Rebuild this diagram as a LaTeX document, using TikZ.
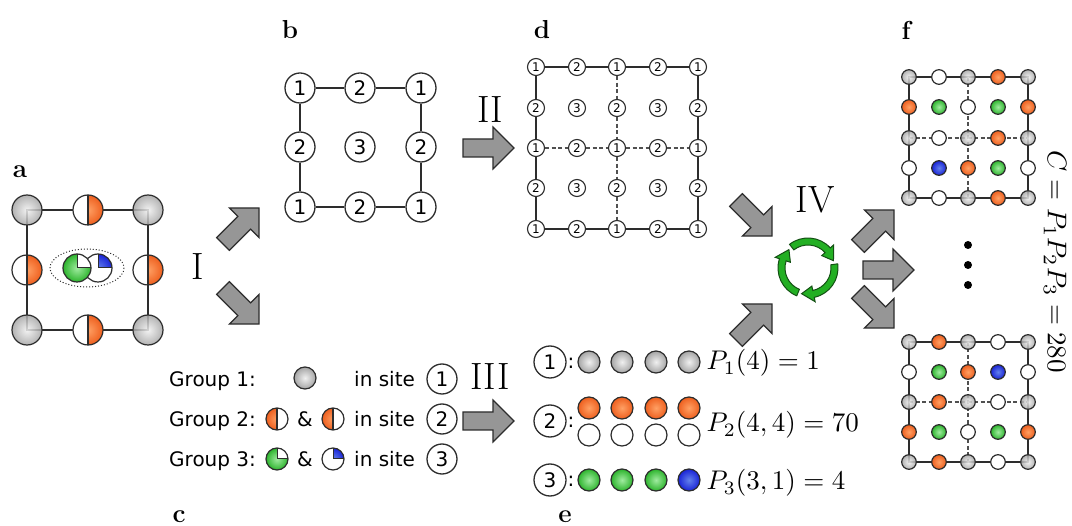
\documentclass[tikz,border=0pt]{standalone}
\usepackage{fontspec}
\newfontfamily\dejavu{DejaVu Sans}
\pgfdeclarelayer{bg}
\pgfsetlayers{bg,main}
\definecolor{ora}{RGB}{238,95,30}
\definecolor{oraL}{RGB}{255,160,100}
\definecolor{grn}{RGB}{45,180,45}
\definecolor{grnL}{RGB}{160,235,160}
\definecolor{blu}{RGB}{25,35,215}
\definecolor{bluL}{RGB}{100,130,235}
\definecolor{gryL}{RGB}{240,240,240}
\definecolor{gry}{RGB}{165,165,165}
\definecolor{edge}{RGB}{45,45,45}
\definecolor{dashgray}{RGB}{80,80,80}
\definecolor{arrowgray}{RGB}{150,150,150}
\definecolor{cyc}{RGB}{35,175,35}
\definecolor{cycedge}{RGB}{20,80,20}
\newcommand{\OHalfR}[3]{%
 \fill[white] (#1,#2) circle (#3);
 \begin{scope}\clip (#1,#2-#3) rectangle (#1+#3,#2+#3);
 \shade[inner color=oraL,outer color=ora] (#1,#2) circle (#3);\end{scope}
 \draw[draw=edge, line width=1.1pt] (#1,#2-#3) -- (#1,#2+#3);
 \draw[draw=edge, line width=1.2pt] (#1,#2) circle (#3);}
\newcommand{\OHalfL}[3]{%
 \fill[white] (#1,#2) circle (#3);
 \begin{scope}\clip (#1-#3,#2-#3) rectangle (#1,#2+#3);
 \shade[inner color=oraL,outer color=ora] (#1,#2) circle (#3);\end{scope}
 \draw[draw=edge, line width=1.1pt] (#1,#2-#3) -- (#1,#2+#3);
 \draw[draw=edge, line width=1.2pt] (#1,#2) circle (#3);}
\newcommand{\QGreen}[3]{%
 \shade[inner color=grnL,outer color=grn] (#1,#2) circle (#3);
 \begin{scope}\clip (#1,#2) rectangle (#1+#3,#2-#3); \fill[white] (#1,#2) circle (#3);\end{scope}
 \draw[draw=edge, line width=1pt] (#1,#2-#3) -- (#1,#2) -- (#1+#3,#2);
 \draw[draw=edge, line width=1.2pt] (#1,#2) circle (#3);}
\newcommand{\QBlue}[3]{%
 \fill[white] (#1,#2) circle (#3);
 \begin{scope}\clip (#1,#2) rectangle (#1+#3,#2-#3);
 \shade[inner color=bluL,outer color=blu] (#1,#2) circle (#3);\end{scope}
 \draw[draw=edge, line width=1pt] (#1,#2-#3) -- (#1,#2) -- (#1+#3,#2);
 \draw[draw=edge, line width=1.2pt] (#1,#2) circle (#3);}
\newcommand{\BArrow}[3]{%
 \draw[barrow, shift={(#1,#2)}, rotate=#3] (0,-9) -- (30,-9) -- (30,-21) -- (51,0) -- (30,21) -- (30,9) -- (0,9) -- cycle;}
\tikzset{
 latline/.style={draw=edge, line width=1.5pt},
 dashline/.style={draw=dashgray, line width=1.3pt, dash pattern=on 4pt off 2.5pt},
 barrow/.style={fill=arrowgray, draw=edge, line width=1.2pt, line join=miter},
 ballbase/.style={circle, inner sep=0pt, draw=edge, line width=1.2pt, shade},
 gball/.style={ballbase, minimum size=#1, inner color=gryL, outer color=gry},
 oball/.style={ballbase, minimum size=#1, inner color=oraL, outer color=ora},
 nball/.style={ballbase, minimum size=#1, inner color=grnL, outer color=grn},
 bball/.style={ballbase, minimum size=#1, inner color=bluL, outer color=blu},
 wball/.style={circle, inner sep=0pt, draw=edge, line width=1.2pt, fill=white, minimum size=#1},
 fsg/.style={gball=14.6pt, fill opacity=0.85},
 fso/.style={oball=14.6pt},
 fsn/.style={nball=14.6pt},
 fsb/.style={bball=14.6pt},
 fsw/.style={wball=14.6pt},
 bsite/.style={circle, draw=edge, line width=1.3pt, fill=white, inner sep=0pt, minimum size=30pt, font=\dejavu\fontsize{20}{20}\selectfont},
 dsite/.style={circle, draw=edge, line width=1.1pt, fill=white, inner sep=0pt, minimum size=17pt, font=\dejavu\fontsize{12}{12}\selectfont},
 gtext/.style={inner sep=0pt, font=\dejavu\fontsize{20}{22}\selectfont},
 mtext/.style={inner sep=0pt, font=\fontsize{10}{12}\selectfont, scale=2.7, transform shape},
 roman/.style={inner sep=0pt, font=\fontsize{38}{40}\selectfont},
 lab/.style={inner sep=0pt, font=\bfseries\fontsize{26}{28}\selectfont},
 cycarrow/.style={fill=cyc, draw=cycedge, line width=1pt, line join=miter},
}
\begin{document}
\begin{tikzpicture}[x=1pt,y=-1pt]
\useasboundingbox (0,0) rectangle (1072,526);
% ---------- panel labels
\node[lab] (la) at (20,172) {a};
\node[lab] (lb) at (290,30) {b};
\node[lab] (ld) at (542,30) {d};
\node[lab] (lf) at (906,30) {f};
\node[lab] (lc) at (179,517) {c};
\node[lab] (le) at (565,517) {e};
% ---------- panel a
\coordinate (a11) at (27,210); \coordinate (a13) at (148,210);
\coordinate (a31) at (27,330); \coordinate (a33) at (148,330);
\draw[latline] (a11) -- (a13) -- (a33) -- (a31) -- cycle;
\foreach \p in {a11,a13,a31,a33} \node[gball=30pt, fill opacity=0.85] (b\p) at (\p) {};
\OHalfR{88}{210}{15}
\OHalfR{27}{270}{15}
\OHalfR{148}{270}{15}
\OHalfR{88}{330}{15}
\draw[draw=edge, line width=1pt, dotted] (87,268) ellipse (37 and 19);
\QBlue{98}{268}{14}
\QGreen{77}{268}{14}
% ---------- panel b
\foreach \r/\y in {1/88,2/147,3/207} \foreach \c/\x in {1/300,2/360,3/421} {
  \pgfmathtruncatemacro\n{mod(\r+1,2)+mod(\c+1,2)+1}
  \node[bsite] (b\r\c) at (\x,\y) {\n};
}
\draw[latline] (b11) -- (b12) -- (b13) -- (b23) -- (b33) -- (b32) -- (b31) -- (b21) -- (b11);
% ---------- panel d
\foreach \r/\y in {0/67,1/108,2/148,3/188,4/229} \foreach \c/\x in {0/536,1/577,2/617,3/658,4/698} {
  \pgfmathtruncatemacro\n{mod(\r,2)+mod(\c,2)+1}
  \node[dsite] (d\r\c) at (\x,\y) {\n};
}
\foreach \i/\j in {0/1,1/2,2/3,3/4} {
  \draw[latline] (d0\i) -- (d0\j);
  \draw[latline] (d4\i) -- (d4\j);
  \draw[latline] (d\i0) -- (d\j0);
  \draw[latline] (d\i4) -- (d\j4);
  \draw[dashline] (d2\i) -- (d2\j);
  \draw[dashline] (d\i2) -- (d\j2);
}
% ---------- panel f (top)
\foreach \c/\x/\s in {0/909/fsg,1/939/fsw,2/968/fsg,3/998/fso,4/1028/fsg} \node[\s] (ft0\c) at (\x,77) {};
\foreach \c/\x/\s in {0/909/fso,1/939/fsn,2/968/fsw,3/998/fsn,4/1028/fso} \node[\s] (ft1\c) at (\x,107) {};
\foreach \c/\x/\s in {0/909/fsg,1/939/fsw,2/968/fsg,3/998/fso,4/1028/fsg} \node[\s] (ft2\c) at (\x,138) {};
\foreach \c/\x/\s in {0/909/fsw,1/939/fsb,2/968/fso,3/998/fsn,4/1028/fsw} \node[\s] (ft3\c) at (\x,168) {};
\foreach \c/\x/\s in {0/909/fsg,1/939/fsw,2/968/fsg,3/998/fso,4/1028/fsg} \node[\s] (ft4\c) at (\x,198) {};
% ---------- panel f (bottom)
\foreach \c/\x/\s in {0/909/fsg,1/939/fso,2/968/fsg,3/998/fsw,4/1028/fsg} \node[\s] (fb0\c) at (\x,342) {};
\foreach \c/\x/\s in {0/909/fsw,1/939/fsn,2/968/fso,3/998/fsb,4/1028/fsw} \node[\s] (fb1\c) at (\x,372) {};
\foreach \c/\x/\s in {0/909/fsg,1/939/fso,2/968/fsg,3/998/fsw,4/1028/fsg} \node[\s] (fb2\c) at (\x,402) {};
\foreach \c/\x/\s in {0/909/fso,1/939/fsn,2/968/fsw,3/998/fsn,4/1028/fso} \node[\s] (fb3\c) at (\x,432) {};
\foreach \c/\x/\s in {0/909/fsg,1/939/fso,2/968/fsg,3/998/fsw,4/1028/fsg} \node[\s] (fb4\c) at (\x,462) {};
\begin{pgfonlayer}{bg}
\foreach \g in {ft,fb} {
  \draw[latline] (\g00.center) -- (\g04.center) -- (\g44.center) -- (\g40.center) -- cycle;
  \draw[dashline] (\g02.center) -- (\g42.center);
  \draw[dashline] (\g20.center) -- (\g24.center);
}
\end{pgfonlayer}
\foreach \k/\y in {1/245,2/265,3/285} \fill (968,\y) circle (4) coordinate (dot\k);
\node[mtext, rotate=-90] (cform) at (1055,262) {$C = P_1P_2P_3 = 280$};
% ---------- panel c
\node[gtext, anchor=base west] (g1) at (169,387) {Group 1:};
\node[gball=22pt] (g1b) at (305,378) {};
\node[gtext, anchor=base west] (g1s) at (354,387) {in site};
\node[bsite] (g1n) at (442,379) {1};
\node[gtext, anchor=base west] (g2) at (169,427) {Group 2:};
\OHalfL{277}{419}{11}
\node[gtext, anchor=base] (amp2) at (305,427) {\&};
\OHalfL{333}{419}{11}
\node[gtext, anchor=base west] (g2s) at (354,427) {in site};
\node[bsite] (g2n) at (442,419) {2};
\node[gtext, anchor=base west] (g3) at (169,467) {Group 3:};
\QGreen{277}{459}{11}
\node[gtext, anchor=base] (amp3) at (305,467) {\&};
\QBlue{333}{459}{11}
\node[gtext, anchor=base west] (g3s) at (354,467) {in site};
\node[bsite] (g3n) at (442,459) {3};
% ---------- panel e
\node[bsite, minimum size=32pt] (e1) at (550,362) {1};
\node[gtext, anchor=base] (e1c) at (571,369) {:};
\foreach \i/\x in {1/589,2/622,3/656,4/689} \node[gball=22pt] (e1b\i) at (\x,362) {};
\node[mtext, anchor=base west] (p1) at (706,370) {$P_1(4) = 1$};
\node[bsite, minimum size=32pt] (e2) at (550,421) {2};
\node[gtext, anchor=base] (e2c) at (571,428) {:};
\foreach \i/\x in {1/589,2/622,3/656,4/689} {
  \node[oball=22pt] (e2o\i) at (\x,408) {};
  \node[wball=22pt] (e2w\i) at (\x,435) {};
}
\node[mtext, anchor=base west] (p2) at (706,432) {$P_2(4,4) = 70$};
\node[bsite, minimum size=32pt] (e3) at (550,480) {3};
\node[gtext, anchor=base] (e3c) at (571,487) {:};
\foreach \i/\x in {1/589,2/622,3/656} \node[nball=22pt] (e3g\i) at (\x,480) {};
\node[bball=22pt] (e3b) at (689,480) {};
\node[mtext, anchor=base west] (p3) at (706,490) {$P_3(3,1) = 4$};
% ---------- roman numerals
\node[roman] (nI) at (198,267) {I};
\node[roman] (nII) at (490,110) {II};
\node[roman] (nIII) at (490,377) {III};
\node[roman] (nIV) at (815,200) {IV};
% ---------- block arrows
\BArrow{223}{244}{45}
\BArrow{223}{288}{-45}
\BArrow{463}{148}{0}
\BArrow{463}{421}{0}
\BArrow{736}{200}{-45}
\BArrow{736}{340}{45}
\BArrow{858}{246}{45}
\BArrow{863}{270}{0}
\BArrow{858}{292}{-45}
% ---------- cycle
\begin{scope}[shift={(808,268)}, yscale=-1]
  \foreach \a in {0,120,240}
    \draw[cycarrow, rotate=\a] (128:30) arc (128:42:30) -- (42:34.5) -- (16:26.5) -- (42:18.5) -- (42:23) arc (42:128:23) -- cycle;
\end{scope}
\end{tikzpicture}
\end{document}
